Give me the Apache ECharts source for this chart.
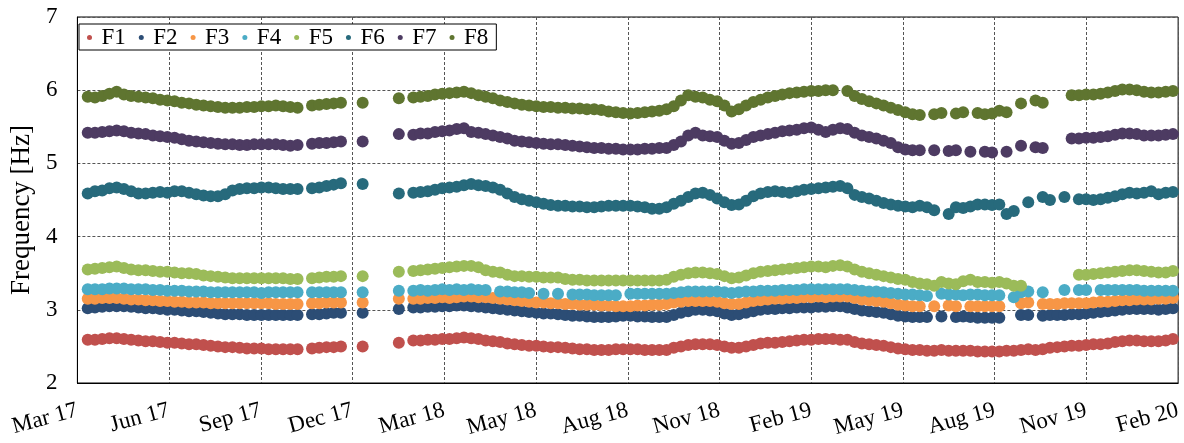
<!DOCTYPE html>
<html>
<head>
<meta charset="utf-8">
<script src="https://cdn.jsdelivr.net/npm/echarts@6/dist/echarts.min.js"></script>
<style>
html,body{margin:0;padding:0;background:#fff;}
#chart{width:1184px;height:443px;}
</style>
</head>
<body>
<div id="chart"></div>
<script>
// x axis: days since first tick (ticks every 88.75 days)
const tickLabels = ['Mar 17','Jun 17','Sep 17','Dec 17','Mar 18','May 18','Aug 18','Nov 18','Feb 19','May 19','Aug 19','Nov 19','Feb 20'];
const tickStep = 88.75;
const firstSampleDay = 10;
const sampleStepDays = 7;

const seriesNames = ['F1','F2','F3','F4','F5','F6','F7','F8'];
const colors = ['#C0504D','#2C4D75','#F79646','#4BACC6','#9BBB59','#276A7C','#4D3B62','#5F7530'];

const F1 = [2.59,2.59,2.60,2.61,2.61,2.60,2.59,2.58,2.57,2.57,
2.56,2.55,2.55,2.54,2.53,2.53,2.52,2.51,2.50,2.49,
2.49,2.48,2.47,2.47,2.47,2.46,2.46,2.46,2.46,2.46,
null,2.47,2.48,2.49,2.49,2.50,null,null,2.50,null,
null,null,null,2.55,null,2.58,2.58,2.59,2.59,2.60,
2.60,2.61,2.62,2.61,2.60,2.58,2.57,2.56,2.54,2.53,
2.52,2.51,2.51,2.50,2.49,2.49,2.48,2.47,2.46,2.46,
2.45,2.45,2.45,2.46,2.46,2.46,2.46,2.45,2.45,2.45,
2.45,2.48,2.50,2.52,2.53,2.53,2.53,2.52,2.50,2.48,
2.48,2.50,2.52,2.54,2.55,2.55,2.56,2.57,2.58,2.59,
2.59,2.60,2.60,2.60,2.59,2.59,2.56,2.54,2.53,2.52,
2.51,2.49,2.47,2.46,2.45,2.45,2.44,2.44,2.45,2.44,
2.44,2.44,2.44,2.43,2.43,2.43,2.43,2.44,2.44,2.45,
2.46,2.45,2.46,2.48,2.49,2.50,2.51,2.51,2.52,2.53,
2.53,2.54,2.56,2.57,2.58,2.58,2.57,2.57,2.57,2.58,2.60];

const F2 = [3.02,3.03,3.04,3.05,3.05,3.05,3.04,3.03,3.02,3.02,
3.01,3.00,3.00,2.99,2.98,2.98,2.97,2.96,2.95,2.94,
2.94,2.94,2.93,2.93,2.93,2.93,2.93,2.93,2.93,2.93,
null,2.94,2.94,2.95,2.96,2.96,null,null,2.96,null,
null,null,null,3.01,null,3.03,3.03,3.04,3.04,3.05,
3.05,3.06,3.06,3.05,3.04,3.03,3.02,3.01,3.00,2.99,
2.98,2.97,2.96,2.95,2.95,2.94,2.93,2.92,2.92,2.91,
2.90,2.90,2.90,2.91,2.92,2.92,2.91,2.91,2.90,2.90,
2.90,2.93,2.96,2.98,3.00,3.00,2.99,2.98,2.95,2.93,
2.94,2.96,2.98,3.00,3.01,3.01,3.02,3.02,3.03,3.03,
3.03,3.04,3.04,3.05,3.05,3.03,3.01,2.99,2.98,2.97,
2.96,2.94,2.92,2.91,2.90,2.90,2.90,null,2.91,null,
2.90,2.91,2.90,2.89,2.89,2.89,2.89,null,null,2.93,
2.93,null,2.92,2.93,2.93,2.93,2.94,2.94,2.95,2.96,
2.97,2.98,2.99,3.00,3.01,3.01,3.01,3.01,3.00,3.01,3.02];

const F3 = [3.15,3.15,3.16,3.16,3.16,3.15,3.14,3.14,3.13,3.13,
3.12,3.12,3.11,3.11,3.10,3.10,3.10,3.09,3.09,3.09,
3.09,3.09,3.09,3.09,3.09,3.09,3.08,3.08,3.08,3.08,
null,3.09,3.09,3.10,3.10,3.10,null,null,3.10,null,
null,null,null,3.15,null,3.15,3.15,3.16,3.16,3.17,
3.16,3.17,3.18,3.18,3.17,3.17,3.16,3.15,3.14,3.13,
3.12,3.11,3.10,3.10,3.09,3.09,3.08,3.08,3.07,3.07,
3.07,3.06,3.06,3.05,3.05,3.05,3.06,3.06,3.07,3.07,
3.08,3.10,3.11,3.12,3.12,3.12,3.12,3.11,3.09,3.08,
3.08,3.10,3.12,3.13,3.14,3.15,3.15,3.16,3.16,3.17,
3.17,3.18,3.17,3.18,3.18,3.18,3.16,3.14,3.13,3.12,
3.11,3.09,3.07,3.06,3.05,3.05,null,3.05,null,3.06,
3.05,null,3.05,3.05,3.05,3.05,3.05,null,null,3.09,
3.10,null,3.08,3.08,3.08,3.09,3.09,3.09,3.09,3.10,
3.11,3.11,3.12,3.13,3.13,3.14,3.14,3.14,3.15,3.15,3.16];

const F4 = [3.28,3.28,3.28,3.29,3.29,3.29,3.28,3.28,3.28,3.27,
3.27,3.26,3.26,3.26,3.25,3.25,3.25,3.24,3.24,3.24,
3.24,3.24,3.24,3.24,3.23,3.24,3.24,3.24,3.24,3.24,
null,3.24,3.24,3.24,3.24,3.24,null,null,3.24,null,
null,null,null,3.26,null,3.26,3.27,3.26,3.27,3.28,
3.27,3.28,3.27,3.28,3.27,3.27,null,3.25,3.25,3.24,
3.24,3.23,null,3.22,null,3.22,null,3.21,3.21,3.21,
3.20,3.20,3.20,3.20,null,3.22,3.22,3.22,3.22,3.22,
3.22,3.23,3.24,3.25,3.25,3.25,3.25,3.25,3.24,3.23,
3.24,3.25,3.25,3.26,3.26,3.26,3.27,3.27,3.27,3.28,
3.28,3.28,3.28,3.28,3.28,3.28,3.27,3.26,3.25,3.25,
3.24,3.23,3.22,3.21,3.21,3.20,3.19,null,3.22,3.21,
3.21,3.20,3.21,3.21,3.20,3.20,3.20,null,3.17,3.24,
3.25,null,3.24,null,null,3.27,null,3.27,3.27,null,
3.27,3.27,3.27,3.27,3.27,3.27,3.26,3.26,3.26,3.26,3.26];

const F5 = [3.55,3.56,3.57,3.58,3.59,3.57,3.55,3.54,3.54,3.53,
3.52,3.52,3.51,3.50,3.50,3.49,3.47,3.46,3.45,3.44,
3.43,3.43,3.43,3.43,3.43,3.43,3.43,3.43,3.42,3.42,
null,3.43,3.44,3.45,3.45,3.46,null,null,3.46,null,
null,null,null,3.52,null,3.53,3.54,3.55,3.56,3.57,
3.58,3.59,3.60,3.60,3.58,3.54,3.52,3.51,3.48,3.46,
3.46,3.45,3.45,3.44,3.44,3.44,3.42,3.41,3.41,3.40,
3.40,3.40,3.40,3.40,3.40,3.40,3.40,3.40,3.40,3.40,
3.41,3.45,3.48,3.50,3.51,3.51,3.50,3.49,3.46,3.43,
3.44,3.47,3.50,3.52,3.53,3.54,3.55,3.56,3.57,3.58,
3.59,3.59,3.58,3.60,3.61,3.59,3.55,3.52,3.50,3.48,
3.46,3.44,3.42,3.41,3.38,3.36,3.35,3.33,3.38,3.36,
3.35,3.39,3.41,3.38,3.38,3.37,3.38,3.36,3.33,3.33,
null,null,null,null,null,null,null,3.48,3.48,3.49,
3.50,3.51,3.52,3.53,3.54,3.54,3.53,3.52,3.51,3.51,3.53];

const F6 = [4.59,4.62,4.63,4.66,4.67,4.65,4.62,4.59,4.59,4.60,
4.61,4.60,4.62,4.62,4.60,4.58,4.56,4.55,4.55,4.58,
4.63,4.65,4.66,4.66,4.67,4.67,4.66,4.65,4.65,4.65,
null,4.66,4.67,4.69,4.71,4.73,null,null,4.72,null,
null,null,null,4.59,null,4.60,4.61,4.62,4.64,4.66,
4.67,4.68,4.70,4.72,4.70,4.69,4.67,4.64,4.59,4.54,
4.51,4.49,4.47,4.45,4.43,4.42,4.42,4.41,4.41,4.40,
4.40,4.41,4.42,4.42,4.42,4.42,4.41,4.40,4.38,4.38,
4.40,4.45,4.49,4.54,4.59,4.60,4.57,4.52,4.47,4.43,
4.44,4.49,4.55,4.59,4.61,4.62,4.61,4.60,4.62,4.64,
4.65,4.66,4.67,4.68,4.69,4.66,4.57,4.54,4.52,4.49,
4.46,4.44,4.42,4.41,4.40,4.42,4.40,4.36,null,4.31,
4.40,4.39,4.41,4.44,4.44,4.43,4.44,4.31,4.35,null,
4.47,null,4.54,4.50,null,4.54,null,4.51,4.51,4.50,
4.51,4.53,4.55,4.58,4.60,4.59,4.60,4.62,4.58,4.60,4.61];

const F7 = [5.42,5.42,5.43,5.44,5.45,5.44,5.42,5.41,5.40,5.38,
5.37,5.36,5.35,5.33,5.31,5.30,5.29,5.28,5.27,5.26,
5.26,5.25,5.25,5.26,5.26,5.26,5.26,5.25,5.24,5.25,
null,5.27,5.28,5.28,5.29,5.30,null,null,5.30,null,
null,null,null,5.40,null,5.39,5.41,5.41,5.43,5.44,
5.45,5.47,5.48,5.43,5.42,5.40,5.38,5.36,5.34,5.31,
5.30,5.29,5.28,5.27,5.26,5.26,5.25,5.24,5.23,5.22,
5.21,5.21,5.20,5.20,5.19,5.19,5.19,5.20,5.20,5.21,
5.21,5.25,5.30,5.38,5.42,5.38,5.37,5.36,5.31,5.27,
5.28,5.32,5.36,5.38,5.40,5.42,5.44,5.45,5.46,5.48,
5.49,5.46,5.43,5.46,5.48,5.47,5.42,5.38,5.36,5.34,
5.31,5.28,5.22,5.19,5.18,5.18,null,5.18,null,5.17,
5.18,null,5.16,null,5.16,5.15,null,5.16,null,5.24,
null,5.22,5.21,null,null,null,5.34,5.34,5.35,5.35,
5.36,5.37,5.39,5.41,5.41,5.40,5.38,5.38,5.38,5.39,5.40];

const F8 = [5.91,5.90,5.92,5.95,5.98,5.94,5.92,5.91,5.90,5.89,
5.87,5.86,5.85,5.83,5.82,5.80,5.79,5.78,5.77,5.76,
5.76,5.76,5.77,5.77,5.78,5.78,5.79,5.78,5.77,5.76,
null,5.79,5.80,5.81,5.82,5.83,null,null,5.83,null,
null,null,null,5.89,null,5.90,5.91,5.92,5.94,5.95,
5.96,5.97,5.98,5.96,5.93,5.91,5.89,5.86,5.84,5.82,
5.80,5.79,5.78,5.77,5.77,5.76,5.76,5.75,5.75,5.74,
5.74,5.73,5.71,5.70,5.69,5.68,5.69,5.70,5.71,5.72,
5.74,5.78,5.86,5.93,5.91,5.90,5.87,5.85,5.79,5.71,
5.74,5.79,5.84,5.87,5.90,5.92,5.94,5.96,5.97,5.98,
5.99,5.99,6.00,6.00,null,5.99,5.92,5.88,5.85,5.82,
5.79,5.76,5.73,5.70,5.67,5.66,null,5.67,5.69,null,
5.68,5.70,null,5.69,5.67,5.68,5.72,5.70,null,5.82,
null,5.86,5.83,null,null,null,5.93,5.93,5.94,5.94,
5.95,5.97,5.99,6.01,6.01,6.00,5.98,5.97,5.97,5.98,5.99];

const allValues = [F1,F2,F3,F4,F5,F6,F7,F8];

const FONT = 'Liberation Serif';

function toPoints(arr){
  const pts = [];
  arr.forEach((v,i)=>{ if(v !== null) pts.push([firstSampleDay + sampleStepDays*i, v]); });
  return pts;
}

const series = allValues.map((arr, k) => ({
  name: seriesNames[k],
  type: 'scatter',
  data: toPoints(arr),
  symbol: 'circle',
  symbolSize: 12,
  itemStyle: { color: colors[k], opacity: 1 },
  emphasis: { disabled: true },
  silent: true
}));

const chart = echarts.init(document.getElementById('chart'), null, {renderer:'canvas'});
chart.setOption({
  animation: false,
  backgroundColor: '#fff',
  textStyle: { fontFamily: FONT },
  grid: { left: 77, right: 4, top: 17, bottom: 60, show: true, borderColor: '#000', borderWidth: 1, backgroundColor: 'transparent' },
  legend: {
    left: 79, top: 24,
    orient: 'horizontal',
    data: seriesNames,
    icon: 'circle',
    itemWidth: 14, itemHeight: 5,
    itemGap: 13,
    padding: [2, 8, 1, 8],
    borderColor: '#000', borderWidth: 1,
    backgroundColor: '#fff',
    textStyle: { fontFamily: FONT, fontSize: 23, color: '#000' }
  },
  xAxis: {
    type: 'value',
    min: 0, max: tickStep * 12, interval: tickStep,
    axisLine: { show: true, lineStyle: { color: '#000', width: 1 } },
    axisTick: { show: false },
    splitLine: { show: true, lineStyle: { color: '#555', type: [3,2], width: 1 } },
    axisLabel: {
      rotate: 15, margin: 27,
      fontFamily: FONT, fontSize: 23, color: '#000',
      showMinLabel: true, showMaxLabel: true, hideOverlap: false,
      formatter: v => tickLabels[Math.round(v / tickStep)] || ''
    }
  },
  yAxis: {
    type: 'value',
    min: 2, max: 7, interval: 1,
    name: 'Frequency [Hz]',
    nameLocation: 'middle',
    nameGap: 41,
    nameTextStyle: { fontFamily: FONT, fontSize: 27, color: '#000', padding: [0, 20, 0, 0] },
    axisLine: { show: true, lineStyle: { color: '#000', width: 1 } },
    axisTick: { show: false },
    splitLine: { show: true, lineStyle: { color: '#555', type: [3,2], width: 1 } },
    axisLabel: { fontFamily: FONT, fontSize: 23, color: '#000', margin: 20 }
  },
  series: series
});
</script>
</body>
</html>
